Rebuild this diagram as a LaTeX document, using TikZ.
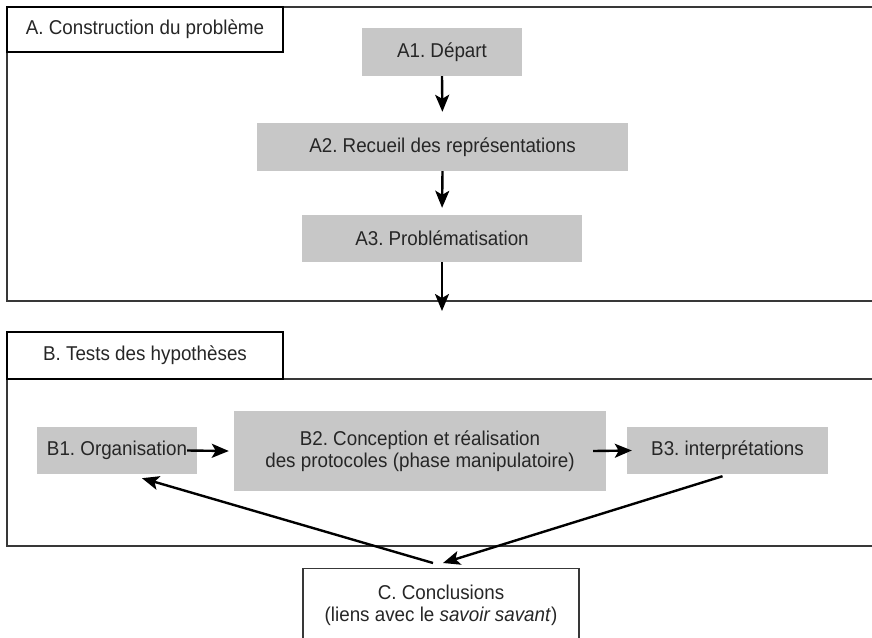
\documentclass[tikz,border=0pt]{standalone}
\usepackage{fontspec}
\setmainfont[FakeStretch=0.94]{Liberation Sans}
\usetikzlibrary{arrows.meta}
\colorlet{phasefill}{black!22}
\colorlet{framecol}{black!78}
\frenchspacing

\begin{document}
\begin{tikzpicture}[
            x=1pt, y=-1pt,
            every node/.append style={black!85,font=\fontsize{20}{22}\selectfont},
            phase/.style={fill=phasefill,minimum height=47pt,inner sep=0pt},
            titlebox/.style={draw=black,line width=1.4pt,fill=white,minimum width=276pt,inner sep=0pt},
            frame/.style={draw=framecol,line width=1.8pt},
            flow/.style={black,line width=2.4pt,-{Stealth[length=17pt,width=14pt,inset=4pt]}}
        ]
            \clip (0,0) rectangle (872,637);
            % the two open frames
            \draw [frame] (880,7) -- (7,7) -- (7,301) -- (880,301);
            \draw [frame] (880,379) -- (7,379) -- (7,546) -- (880,546);
            \node [titlebox,minimum height=45pt] (ta) at (145,29.5) {A. Construction du problème};
            \node [titlebox,minimum height=47pt] (tb) at (145,355.5) {B. Tests des hypothèses};
            % part A
            \node [phase,minimum width=160pt,minimum height=48pt] (a1) at (442,52) {A1. Départ};
            \node [phase,minimum width=371pt,minimum height=48pt] (a2) at (442.5,147) {A2. Recueil des représentations};
            \node [phase,minimum width=280pt] (a3) at (442,238.5) {A3. Problématisation};
            \coordinate (aout) at (442,311);
            % part B
            \node [phase,minimum width=160pt] (b1) at (117,450.5) {B1. Organisation};
            \node [phase,minimum width=372pt,minimum height=80pt,align=center] (b2) at (420,451)
                {B2. Conception et réalisation\\des protocoles (phase manipulatoire)};
            \node [phase,minimum width=201pt] (b3) at (727.5,450.5) {B3. interprétations};
            % part C
            \node [draw=framecol,line width=1.4pt,minimum width=276pt,anchor=north,inner ysep=16pt,align=center]
                (c) at (441,568) {C. Conclusions\\(liens avec le \textit{savoir savant})};
            \draw [flow,shorten >=11pt] (a1.south) -- (a2.north);
            \draw [flow,shorten >=7pt] (a2.south) -- (a3.north);
            \draw [flow] (a3.south) -- (aout);
            \draw [flow] ([xshift=-10pt]b1.east) -- ([xshift=-5pt]b2.west);
            \draw [flow] ([xshift=-13pt]b2.east) -- ([xshift=5pt]b3.west);
            \draw [flow] ([xshift=-8pt,yshift=5pt]c.north) -- ([xshift=25pt,yshift=-4pt]b1.south);
            \draw [flow] ([xshift=-5pt,yshift=-2pt]b3.south) -- ([xshift=2pt,yshift=5pt]c.north);
        \end{tikzpicture}
\end{document}
